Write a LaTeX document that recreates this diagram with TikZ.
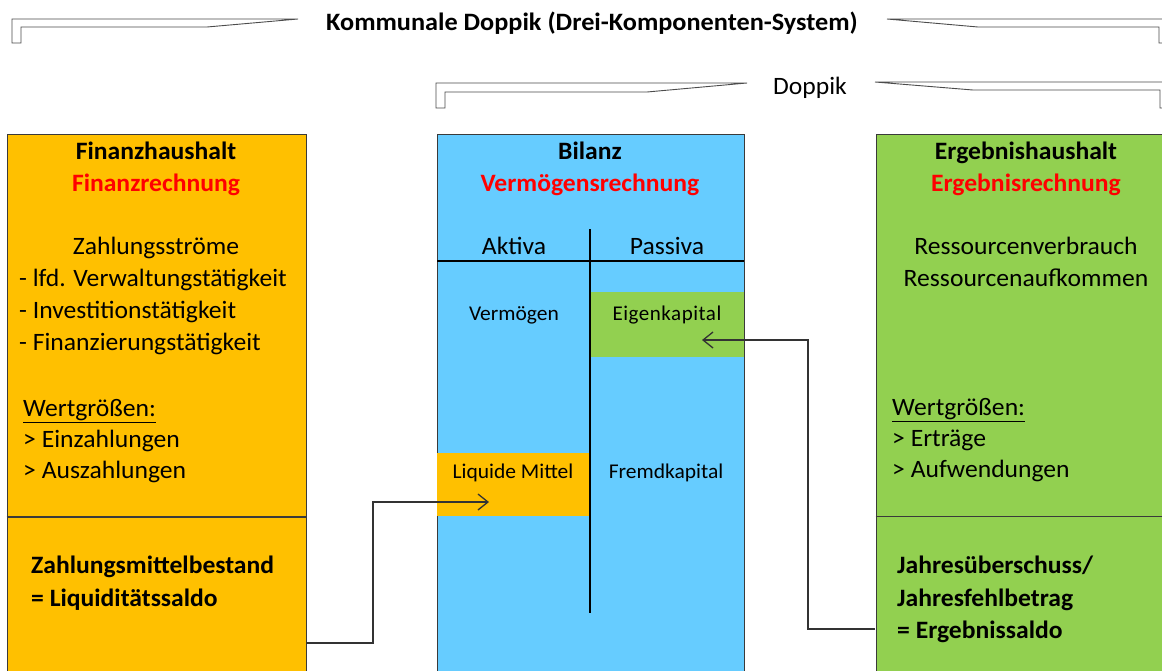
\documentclass[tikz,border=0pt]{standalone}
\usepackage{fontspec}
\setmainfont{Carlito}[FakeStretch=1.025]
\newfontfamily\titlefont{Carlito}[FakeStretch=1.05]
\newfontfamily\spacedfont{Carlito}[LetterSpace=2.5]
\usetikzlibrary{arrows.meta}
\definecolor{orng}{HTML}{FFC000}
\definecolor{sky}{HTML}{66CCFF}
\definecolor{lgreen}{HTML}{92D050}
\definecolor{bord}{HTML}{3A3A3A}
\definecolor{rtext}{HTML}{FF0000}
\begin{document}
\begin{tikzpicture}[x=1pt,y=-1pt,
  box/.style={draw=bord,line width=1.3pt,anchor=north west,inner sep=0pt},
  region/.style={anchor=north west,inner sep=0pt,draw=none},
  txt/.style={inner sep=0pt,font=\fontsize{25}{25}\selectfont},
  btxt/.style={inner sep=0pt,font=\fontsize{25}{25}\selectfont\bfseries},
  rtxt/.style={inner sep=0pt,font=\fontsize{25}{25}\selectfont\bfseries,text=rtext},
  stxt/.style={inner sep=0pt,font=\fontsize{21}{21}\selectfont},
  brace/.style={draw=black!70,fill=white,line width=0.9pt,line join=miter},
  conn/.style={draw=black!80,line width=1.3pt},
  arr/.style={conn,-{Straight Barb[length=10pt,width=16pt,line width=1.3pt]}}
]
\clip (0,0) rectangle (1162,670);
\fill[white] (0,0) rectangle (1162,670);

% braces
\draw[brace] (12,43) -- (12,19) -- (298,19) -- (207,27) -- (21,27) -- (21,43) -- cycle;
\draw[brace] (887,19) -- (1170,19) -- (1170,43) -- (1159,43) -- (1159,27) -- (978,27) -- cycle;
\draw[brace] (436,108) -- (436,83) -- (747,83) -- (647,92) -- (445,92) -- (445,108) -- cycle;
\draw[brace] (875,82) -- (1170,82) -- (1170,108) -- (1160,108) -- (1160,90) -- (973,90) -- cycle;
\node[inner sep=0pt,font=\titlefont\fontsize{25}{25}\selectfont\bfseries,anchor=base] (title) at (592,30) {Kommunale Doppik (Drei-Komponenten-System)};
\node[txt,anchor=base] (doppik) at (810,94) {Doppik};

% boxes
\node[box,fill=orng,minimum width=299pt,minimum height=600pt] (fin) at (6.5,134) {};
\node[box,fill=sky,minimum width=307.5pt,minimum height=600pt] (bil) at (436.5,134) {};
\node[box,fill=lgreen,minimum width=330pt,minimum height=600pt] (erg) at (875.5,134) {};

% dividers
\draw[draw=bord,line width=1.3pt] (6.5,517) -- (307,517);
\draw[draw=bord,line width=1.3pt] (875.5,516.5) -- (1162,516.5);

% Bilanz inner regions
\node[region,fill=lgreen,minimum width=153pt,minimum height=65pt] (eigenfeld) at (591,292) {};
\node[region,fill=orng,minimum width=152pt,minimum height=63pt] (liqfeld) at (437.2,453) {};
\draw[draw=black,line width=1.3pt] (437,261) -- (744,261);
\draw[draw=black,line width=2.6pt] (590,229) -- (590,613);

% Finanzhaushalt texts
\node[btxt,anchor=base] (f1) at (156,159) {Finanzhaushalt};
\node[rtxt,anchor=base] (f2) at (156,191) {Finanzrechnung};
\node[txt,anchor=base] (f3) at (156,254) {Zahlungsströme};
\node[txt,anchor=base west] (f4) at (19,286) {- lfd. Verwaltungstätigkeit};
\node[txt,anchor=base west] (f5) at (19,318) {- Investitionstätigkeit};
\node[txt,anchor=base west] (f6) at (19,350) {- Finanzierungstätigkeit};
\node[txt,anchor=base west] (f7) at (23,416) {\underline{Wertgrößen:}};
\node[txt,anchor=base west] (f8) at (23,447) {> Einzahlungen};
\node[txt,anchor=base west] (f9) at (23,478) {> Auszahlungen};
\node[btxt,anchor=base west] (f10) at (31,573) {Zahlungsmittelbestand};
\node[btxt,anchor=base west] (f11) at (31,606) {= Liquiditätssaldo};

% Bilanz texts
\node[btxt,anchor=base] (b1) at (590,159) {Bilanz};
\node[rtxt,anchor=base] (b2) at (590,191) {Vermögensrechnung};
\node[txt,anchor=base] (b3) at (514,254) {Aktiva};
\node[txt,anchor=base] (b4) at (667,254) {Passiva};
\node[stxt,anchor=base] (b5) at (514,320) {Vermögen};
\node[stxt,anchor=base] (b6) at (667,320) {\spacedfont Eigenkapital};
\node[stxt,anchor=base] (b7) at (513,478) {Liquide Mittel};
\node[stxt,anchor=base] (b8) at (666,478) {Fremdkapital};

% Ergebnishaushalt texts
\node[btxt,anchor=base] (e1) at (1026,159) {Ergebnishaushalt};
\node[rtxt,anchor=base] (e2) at (1026,191) {Ergebnisrechnung};
\node[txt,anchor=base] (e3) at (1026,254) {Ressourcenverbrauch};
\node[txt,anchor=base] (e4) at (1026,286) {Ressourcenaufkommen};
\node[txt,anchor=base west] (e5) at (892,415) {\underline{Wertgrößen:}};
\node[txt,anchor=base west] (e6) at (892,446) {> Erträge};
\node[txt,anchor=base west] (e7) at (892,477) {> Aufwendungen};
\node[btxt,anchor=base west] (e8) at (897,573) {Jahresüberschuss/};
\node[btxt,anchor=base west] (e9) at (897,606) {Jahresfehlbetrag};
\node[btxt,anchor=base west] (e10) at (897,638) {= Ergebnissaldo};

% connectors
\coordinate (s1) at (306,643);
\coordinate (t1) at (489,502);
\coordinate (s2) at (875,629);
\coordinate (t2) at (702,340);
\draw[arr] (s1) -- ++(67,0) |- (t1);
\draw[arr] (s2) -- ++(-67,0) |- (t2);
\end{tikzpicture}
\end{document}
